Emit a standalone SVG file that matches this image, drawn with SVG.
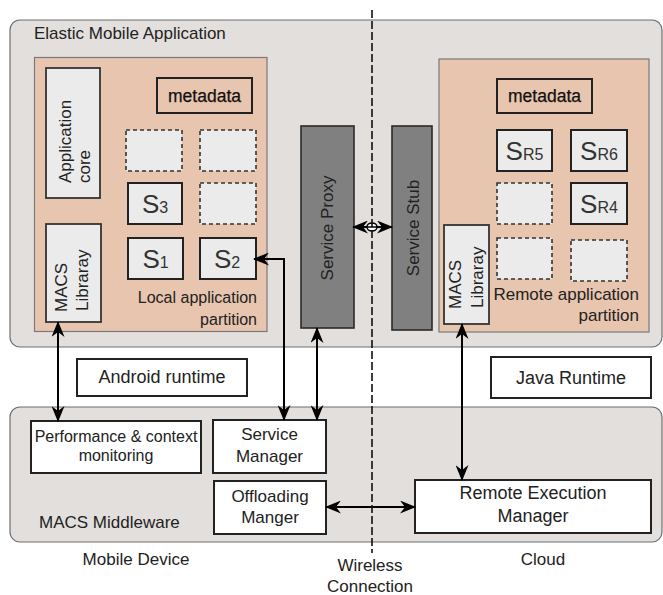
<svg xmlns="http://www.w3.org/2000/svg" width="663" height="595" viewBox="0 0 663 595">
<defs>
<style>
text{font-family:"Liberation Sans",Arial,sans-serif;fill:#222}
.container{fill:#e3dfdc;stroke:#6f6f6f;stroke-width:1.2}
.part{fill:#e8c5ae;stroke:#7a7a7a;stroke-width:1.2}
.lib{fill:#ebebeb;stroke:#333;stroke-width:1.8}
.svc{fill:#ebebeb;stroke:#222;stroke-width:2}
.ph{fill:#ebebeb;stroke:#333;stroke-width:1.6;stroke-dasharray:4 3}
.meta{fill:#e8c5ae;stroke:#222;stroke-width:2}
.dark{fill:#808080;stroke:#2a2a2a;stroke-width:1.6}
.white{fill:#fff;stroke:#222;stroke-width:2}
.t17{font-size:17px}
.t18{font-size:18px}
.t16{font-size:16px}
.mt{font-size:17.5px;stroke:#111;stroke-width:0.25;fill:#111}
.big{font-size:26px;fill:#333}
.sub{font-size:16px;fill:#333}
.c{text-anchor:middle}
.e{text-anchor:end}
.arr{fill:none;stroke:#000;stroke-width:2;marker-start:url(#ah);marker-end:url(#ah)}
</style>
<marker id="ah" viewBox="0 0 16 13" refX="15" refY="6.5" markerWidth="16" markerHeight="13" markerUnits="userSpaceOnUse" orient="auto-start-reverse">
<path d="M0,0 L16,6.5 L0,13 L5,6.5 Z" fill="#000"/>
</marker>
</defs>

<g id="elastic-app">
<rect class="container" x="10" y="20" width="652" height="327" rx="10"/>
<text class="t17" x="34" y="39">Elastic Mobile Application</text>
</g>

<g id="middleware">
<rect class="container" x="10" y="407" width="652" height="135" rx="10"/>
<text class="t17" x="39" y="528">MACS Middleware</text>
</g>

<g id="local-partition">
<rect class="part" x="34.5" y="57.5" width="232.5" height="274"/>
<text class="t16 e" x="257" y="303">Local application</text>
<text class="t16 e" x="257" y="325">partition</text>
</g>

<g id="remote-partition">
<rect class="part" x="439" y="59" width="210" height="273"/>
<text class="t17 e" x="639" y="300">Remote application</text>
<text class="t17 e" x="639" y="321">partition</text>
</g>

<g id="app-core">
<rect class="lib" x="46" y="68" width="54" height="130"/>
<text class="t17" transform="translate(71,183) rotate(-90)">Application</text>
<text class="t17" transform="translate(90,183) rotate(-90)">core</text>
</g>

<g id="macs-lib-local">
<rect class="lib" x="46" y="224" width="55" height="98"/>
<text class="t17" transform="translate(67,312) rotate(-90)">MACS</text>
<text class="t17" transform="translate(88,311) rotate(-90)">Libraray</text>
</g>

<g id="metadata-local">
<rect class="meta" x="157" y="78" width="95" height="35"/>
<text class="mt c" x="204.5" y="102">metadata</text>
</g>

<g id="ph-l1"><rect class="ph" x="126" y="130" width="56" height="41"/></g>
<g id="ph-l2"><rect class="ph" x="200" y="130" width="56" height="41"/></g>
<g id="ph-l3"><rect class="ph" x="200" y="183" width="56" height="41"/></g>

<g id="s3">
<rect class="svc" x="128" y="183" width="54" height="41"/>
<text x="155" y="213" class="c"><tspan class="big">S</tspan><tspan class="sub">3</tspan></text>
</g>
<g id="s1">
<rect class="svc" x="128" y="238" width="55" height="41"/>
<text x="155.5" y="268" class="c"><tspan class="big">S</tspan><tspan class="sub">1</tspan></text>
</g>
<g id="s2">
<rect class="svc" x="200" y="238" width="56" height="41"/>
<text x="227" y="268" class="c"><tspan class="big">S</tspan><tspan class="sub">2</tspan></text>
</g>

<g id="service-proxy">
<rect class="dark" x="301" y="126" width="53" height="202"/>
<text class="t17 c" transform="translate(333,228) rotate(-90)">Service Proxy</text>
</g>

<g id="service-stub">
<rect class="dark" x="392" y="126" width="40" height="204"/>
<text class="t17 c" transform="translate(419,228) rotate(-90)">Service Stub</text>
</g>

<g id="metadata-remote">
<rect class="meta" x="497" y="79" width="95" height="34"/>
<text class="mt c" x="544.5" y="102">metadata</text>
</g>

<g id="sr5">
<rect class="svc" x="497" y="130" width="55" height="41"/>
<text x="524.5" y="160" class="c"><tspan class="big">S</tspan><tspan class="sub">R5</tspan></text>
</g>
<g id="sr6">
<rect class="svc" x="571" y="130" width="56" height="41"/>
<text x="599" y="160" class="c"><tspan class="big">S</tspan><tspan class="sub">R6</tspan></text>
</g>
<g id="ph-r1"><rect class="ph" x="497" y="183" width="55" height="41"/></g>
<g id="sr4">
<rect class="svc" x="571" y="183" width="56" height="41"/>
<text x="599" y="213" class="c"><tspan class="big">S</tspan><tspan class="sub">R4</tspan></text>
</g>
<g id="ph-r2"><rect class="ph" x="497" y="238" width="55" height="41"/></g>
<g id="ph-r3"><rect class="ph" x="571" y="240" width="56" height="41"/></g>

<g id="macs-lib-remote">
<rect class="lib" x="444" y="225" width="45" height="99"/>
<text class="t17" transform="translate(461,309) rotate(-90)">MACS</text>
<text class="t17" transform="translate(483,308) rotate(-90)">Libraray</text>
</g>

<g id="android-runtime">
<rect class="white" x="77" y="359" width="170" height="37"/>
<text class="t18 c" x="162" y="383">Android runtime</text>
</g>

<g id="java-runtime">
<rect class="white" x="491" y="357" width="160" height="41"/>
<text class="t18 c" x="571" y="384">Java Runtime</text>
</g>

<g id="perf-monitoring">
<rect class="white" x="31" y="421" width="170" height="52"/>
<text class="t16 c" x="116" y="442">Performance &amp; context</text>
<text class="t16 c" x="116" y="461">monitoring</text>
</g>

<g id="service-manager">
<rect class="white" x="213" y="420" width="113" height="53"/>
<text class="t17 c" x="269.5" y="440">Service</text>
<text class="t17 c" x="269.5" y="462">Manager</text>
</g>

<g id="offloading-manager">
<rect class="white" x="214" y="481" width="112" height="53"/>
<text class="t17 c" x="270" y="502">Offloading</text>
<text class="t17 c" x="270" y="523">Manger</text>
</g>

<g id="remote-exec-manager">
<rect class="white" x="415" y="480" width="236" height="53"/>
<text class="t18 c" x="533" y="499">Remote Execution</text>
<text class="t18 c" x="533" y="522">Manager</text>
</g>

<g id="labels">
<text class="t17 c" x="136" y="565">Mobile Device</text>
<text class="t17 c" x="370" y="571">Wireless</text>
<text class="t17 c" x="370" y="592">Connection</text>
<text class="t17 c" x="543" y="565">Cloud</text>
</g>

<g id="connectors">
<path class="arr" d="M58,322 V421"/>
<path class="arr" d="M284,420 V259 H254"/>
<path class="arr" d="M317,328 V420"/>
<path class="arr" d="M462,324 V480"/>
<path class="arr" d="M326,507 H415"/>
<path class="arr" d="M353,227 H392"/>
<ellipse cx="372" cy="227" rx="5" ry="4" fill="#fff" stroke="#000" stroke-width="1.5"/>
<line x1="367" y1="227" x2="377" y2="227" stroke="#000" stroke-width="1.5"/>
<path d="M372,10 V553" fill="none" stroke="#111" stroke-width="1.6" stroke-dasharray="8 3"/>
</g>
</svg>
